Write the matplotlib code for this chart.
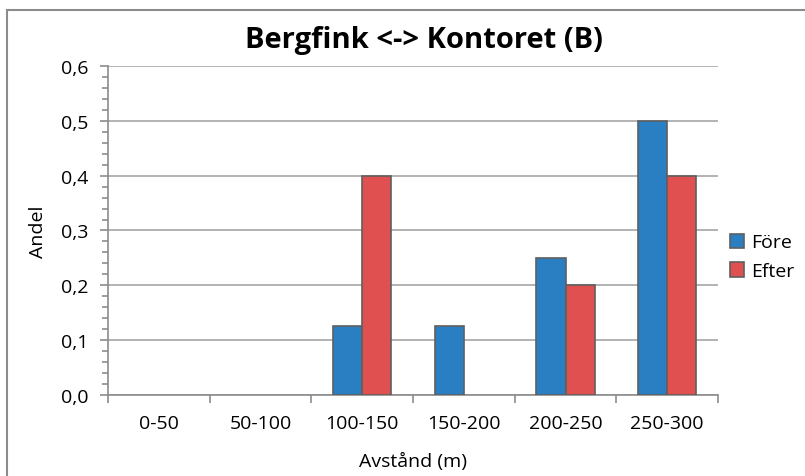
import numpy as np
import matplotlib
matplotlib.use("Agg")
import matplotlib.pyplot as plt
from matplotlib.patches import Rectangle
from matplotlib.ticker import MultipleLocator, FuncFormatter

# data
categories = ["0-50", "50-100", "100-150", "150-200", "200-250", "250-300"]
fore = [0, 0, 0.125, 0.125, 0.25, 0.5]
efter = [0, 0, 0.4, 0, 0.2, 0.4]

plt.rcParams['font.family'] = ['Open Sans', 'DejaVu Sans']

W, H = 805, 477
fig = plt.figure(figsize=(W / 100, H / 100), dpi=100)
ax = fig.add_axes([108 / W, 1 - 396 / H, (718 - 108) / W, (396 - 67) / H])

# outer chart frame (runs off the right and bottom edges)
fig.patches.append(Rectangle((7 / W, -0.1), 1.2, 1.1 - 11 / H, transform=fig.transFigure,
                             fill=False, edgecolor="#8c8c8c", linewidth=1.5))

x = np.arange(len(categories))
bw = 1 / 3.5
edge = "#5f5f5f"
ax.bar(x - bw / 2, fore, bw, color="#2a7fc2", label="Före", zorder=3,
       edgecolor=[edge if v > 0 else "none" for v in fore], linewidth=1.2)
ax.bar(x + bw / 2, efter, bw, color="#e05050", label="Efter", zorder=3,
       edgecolor=[edge if v > 0 else "none" for v in efter], linewidth=1.2)

ax.set_xlim(-0.5, len(categories) - 0.5)
ax.set_ylim(0, 0.6)
ax.yaxis.set_major_locator(MultipleLocator(0.1))
ax.yaxis.set_minor_locator(MultipleLocator(0.02))
ax.yaxis.set_major_formatter(FuncFormatter(lambda v, p: f"{v:.1f}".replace(".", ",")))
ax.set_xticks(x)
ax.set_xticklabels(categories)
ax.set_xticks(np.arange(-0.5, len(categories)), minor=True)
ax.tick_params(axis="x", which="major", length=0, labelsize=14, pad=14)
ax.tick_params(axis="x", which="minor", length=6, color="#8c8c8c", width=1.2)
ax.tick_params(axis="y", which="major", length=6, color="#8c8c8c", width=1.2, labelsize=14, pad=8)
ax.tick_params(axis="y", which="minor", length=4, color="#8c8c8c", width=1.2)

ax.grid(axis="y", which="major", color="#a6a6a6", linewidth=1.2, zorder=0)
for s in ["top", "right"]:
    ax.spines[s].set_visible(False)
for s in ["left", "bottom"]:
    ax.spines[s].set_color("#8c8c8c")
    ax.spines[s].set_linewidth(1.2)

# title is centred on the whole chart, not the plot area
ax.set_title("Bergfink <-> Kontoret (B)", fontsize=21, fontweight="bold", pad=14, x=0.518)
ax.set_xlabel("Avstånd (m)", fontsize=14, labelpad=14)
ax.set_ylabel("Andel", fontsize=14, labelpad=10)

leg = ax.legend(loc="center left", bbox_to_anchor=(1.0, 0.42), frameon=False, fontsize=14,
                handlelength=0.75, handleheight=0.75, handletextpad=0.35, labelspacing=0.55,
                borderaxespad=0.2)
for h in leg.legend_handles:
    h.set_edgecolor(edge)
    h.set_linewidth(1.2)

fig.savefig("out.png", dpi=100)
